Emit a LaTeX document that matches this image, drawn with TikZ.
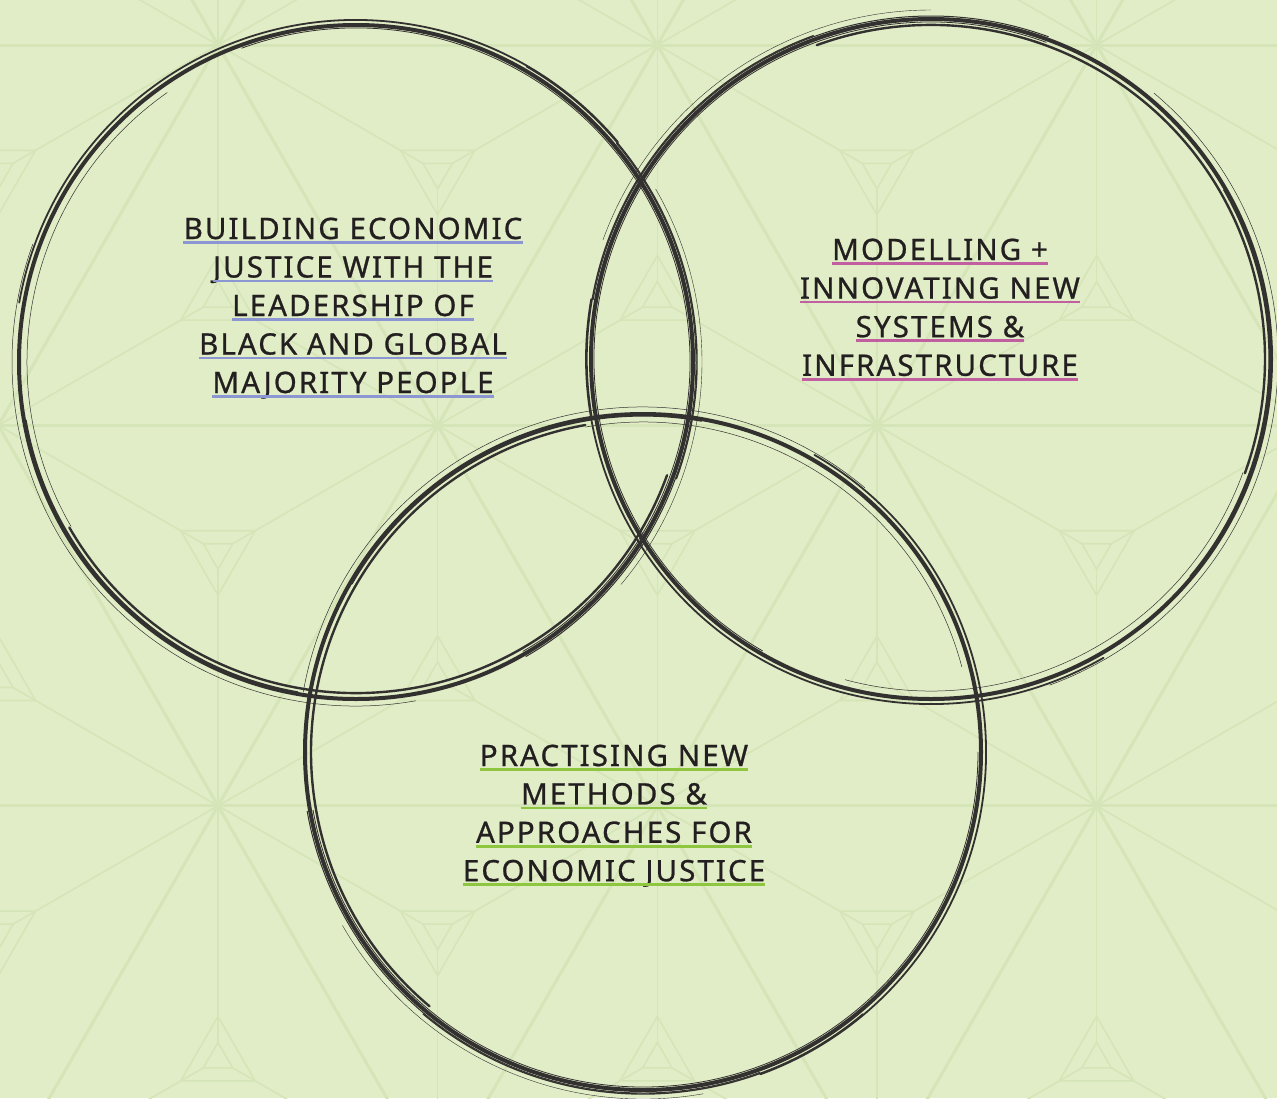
\documentclass[tikz,border=0pt]{standalone}
\usepackage{fontspec}
\setmainfont{Noto Sans}
\newfontfamily\capsfont[LetterSpace=7, FakeBold=0.8]{Noto Sans}
\usetikzlibrary{calc}

\definecolor{paper}{HTML}{E1EDC6}
\definecolor{grid}{HTML}{D6E5B8}
\definecolor{ink}{HTML}{333130}
\definecolor{textink}{HTML}{231F20}
\definecolor{ulblue}{HTML}{8C96D2}
\definecolor{ulpink}{HTML}{C25FA0}
\definecolor{ulgreen}{HTML}{8FC640}

\tikzset{
  heavy/.style={grid, line width=3pt},
  fine/.style={grid, line width=1.6pt},
  label/.style={font=\capsfont\fontsize{29.5}{38}\selectfont, text=textink,
    inner sep=0pt, anchor=base},
  uline/.style={line width=2.6pt},
  brush/.style={ink, line cap=round}
}

\begin{document}
\begin{tikzpicture}[x=1pt, y=-1pt]
\def \side {439.3}
\def \half {219.65}
\def \rise {380.4}
\def \cdist {253.6}

\useasboundingbox (0,0) rectangle (1277,1098);
\fill[paper] (0,0) rectangle (1277,1098);

% star lattice in the background
\begin{scope}
\clip (0,0) rectangle (1277,1098);
\foreach \j in {-1,...,3}
\foreach \i in {-2,...,4}
{
  \pgfmathsetmacro\px{218+\i*\side-mod(\j+2,2)*\half}
  \pgfmathsetmacro\py{45+\j*\rise}
  \coordinate (p) at (\px,\py);
  \draw[heavy] (p) -- ++(\side,0);
  \draw[heavy] (p) -- ++(\half,\rise);
  \draw[heavy] (p) -- ++(-\half,\rise);
  % small triangle below the point
  \coordinate (u) at (\px,\py+\cdist);
  \draw[fine] (p) -- ($(u)+(0,-17)$);
  \draw[fine] ($(p)+(-\half,\rise)$) -- ($(u)+(-14.72,8.5)$);
  \draw[fine] ($(p)+(\half,\rise)$) -- ($(u)+(14.72,8.5)$);
  \draw[fine] ($(u)+(0,-43)$) -- ($(u)+(37.24,21.5)$) -- ($(u)+(-37.24,21.5)$) -- cycle;
  \draw[fine] ($(u)+(0,-17)$) -- ($(u)+(14.72,8.5)$) -- ($(u)+(-14.72,8.5)$) -- cycle;
  % small triangle above the point
  \coordinate (d) at (\px,\py-\cdist);
  \draw[fine] (p) -- ($(d)+(0,17)$);
  \draw[fine] ($(p)+(-\half,-\rise)$) -- ($(d)+(-14.72,-8.5)$);
  \draw[fine] ($(p)+(\half,-\rise)$) -- ($(d)+(14.72,-8.5)$);
  \draw[fine] ($(d)+(0,43)$) -- ($(d)+(37.24,-21.5)$) -- ($(d)+(-37.24,-21.5)$) -- cycle;
  \draw[fine] ($(d)+(0,17)$) -- ($(d)+(14.72,-8.5)$) -- ($(d)+(-14.72,-8.5)$) -- cycle;
}
\end{scope}

% the three brush rings
\coordinate (leader) at (356,362);
\coordinate (model) at (931,359);
\coordinate (method) at (643,752);
\foreach \c/\r/\rot in {leader/337/0, model/340/130, method/338/250}
{
  \draw[brush, line width=4pt] (\c) circle[radius=\r];
  \begin{scope}[shift={(\c)}, rotate=\rot]
    \foreach \dr/\a/\b/\w in {-6/20/150/2.4, 5/190/320/1.8, -3/250/420/0.8,
                              7/80/200/0.5, 3/-40/60/1.0, -8/150/235/0.5,
                              4/300/380/1.4, -2/100/170/1.2, 9/330/400/0.4}
      \draw[brush, line width=\w pt] (\a:\r+\dr) arc[start angle=\a, end angle=\b, radius=\r+\dr];
  \end{scope}
}

% labels
\foreach \t [count=\k] in {BUILDING ECONOMIC, JUSTICE WITH THE, LEADERSHIP OF,
                           BLACK AND GLOBAL, MAJORITY PEOPLE}
{
  \node[label] (lead-\k) at (353, {239+38.5*(\k-1)}) {\t};
  \draw[uline, ulblue] ([yshift=-3.5pt]lead-\k.base west) -- ([yshift=-3.5pt]lead-\k.base east);
}
\foreach \t [count=\k] in {MODELLING +, INNOVATING NEW, SYSTEMS \&, INFRASTRUCTURE}
{
  \node[label] (model-\k) at (940, {260+38.6*(\k-1)}) {\t};
  \draw[uline, ulpink] ([yshift=-3.5pt]model-\k.base west) -- ([yshift=-3.5pt]model-\k.base east);
}
\foreach \t [count=\k] in {PRACTISING NEW, METHODS \&, APPROACHES FOR, ECONOMIC JUSTICE}
{
  \node[label] (method-\k) at (614, {766+38.4*(\k-1)}) {\t};
  \draw[uline, ulgreen] ([yshift=-3.5pt]method-\k.base west) -- ([yshift=-3.5pt]method-\k.base east);
}
\end{tikzpicture}
\end{document}
